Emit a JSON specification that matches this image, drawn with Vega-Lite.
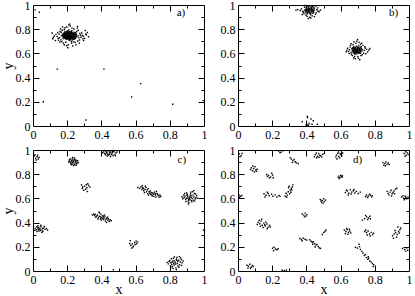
{
"$schema":"https://vega.github.io/schema/vega-lite/v6.json",
"padding":{"left":0,"top":-2,"right":0,"bottom":0},
"config":{"view":{"stroke":"#000","strokeWidth":1},"axis":{"labelFont":"'Liberation Serif', 'Times New Roman', serif","labelFontSize":12,"labelColor":"#000","titleFont":"'Liberation Serif', 'Times New Roman', serif","titleFontSize":14,"titleFontWeight":"normal","titleColor":"#000","tickColor":"#000","tickWidth":1,"grid":false,"domain":false,"format":"~g"}},
"datasets":{
"a":[{"x":0.213,"y":0.745},{"x":0.198,"y":0.752},{"x":0.225,"y":0.731},{"x":0.207,"y":0.768},{"x":0.189,"y":0.739},{"x":0.231,"y":0.758},{"x":0.219,"y":0.722},{"x":0.202,"y":0.728},{"x":0.244,"y":0.741},{"x":0.184,"y":0.761},{"x":0.211,"y":0.779},{"x":0.236,"y":0.717},{"x":0.195,"y":0.716},{"x":0.228,"y":0.772},{"x":0.176,"y":0.748},{"x":0.249,"y":0.756},{"x":0.215,"y":0.709},{"x":0.203,"y":0.785},{"x":0.241,"y":0.729},{"x":0.187,"y":0.725},{"x":0.222,"y":0.763},{"x":0.208,"y":0.736},{"x":0.193,"y":0.771},{"x":0.233,"y":0.748},{"x":0.217,"y":0.754},{"x":0.2,"y":0.744},{"x":0.226,"y":0.741},{"x":0.181,"y":0.733},{"x":0.246,"y":0.768},{"x":0.212,"y":0.727},{"x":0.191,"y":0.757},{"x":0.237,"y":0.737},{"x":0.205,"y":0.761},{"x":0.221,"y":0.715},{"x":0.173,"y":0.759},{"x":0.253,"y":0.744},{"x":0.209,"y":0.793},{"x":0.229,"y":0.724},{"x":0.196,"y":0.732},{"x":0.239,"y":0.776},{"x":0.186,"y":0.768},{"x":0.216,"y":0.738},{"x":0.204,"y":0.752},{"x":0.232,"y":0.735},{"x":0.199,"y":0.764},{"x":0.224,"y":0.751},{"x":0.182,"y":0.744},{"x":0.247,"y":0.733},{"x":0.214,"y":0.766},{"x":0.192,"y":0.722},{"x":0.235,"y":0.762},{"x":0.206,"y":0.719},{"x":0.227,"y":0.787},{"x":0.178,"y":0.738},{"x":0.251,"y":0.761},{"x":0.218,"y":0.731},{"x":0.201,"y":0.776},{"x":0.243,"y":0.749},{"x":0.188,"y":0.753},{"x":0.223,"y":0.727},{"x":0.21,"y":0.758},{"x":0.194,"y":0.741},{"x":0.238,"y":0.744},{"x":0.197,"y":0.781},{"x":0.23,"y":0.711},{"x":0.183,"y":0.727},{"x":0.256,"y":0.737},{"x":0.22,"y":0.771},{"x":0.185,"y":0.777},{"x":0.242,"y":0.718},{"x":0.211,"y":0.711},{"x":0.234,"y":0.754},{"x":0.19,"y":0.746},{"x":0.226,"y":0.767},{"x":0.203,"y":0.738},{"x":0.248,"y":0.725},{"x":0.177,"y":0.754},{"x":0.216,"y":0.782},{"x":0.24,"y":0.767},{"x":0.195,"y":0.726},{"x":0.219,"y":0.743},{"x":0.207,"y":0.748},{"x":0.228,"y":0.757},{"x":0.186,"y":0.734},{"x":0.213,"y":0.729},{"x":0.2,"y":0.759},{"x":0.245,"y":0.762},{"x":0.18,"y":0.766},{"x":0.233,"y":0.727},{"x":0.209,"y":0.774},{"x":0.192,"y":0.735},{"x":0.237,"y":0.749},{"x":0.222,"y":0.737},{"x":0.175,"y":0.742},{"x":0.254,"y":0.752},{"x":0.214,"y":0.717},{"x":0.199,"y":0.748},{"x":0.231,"y":0.766},{"x":0.188,"y":0.761},{"x":0.243,"y":0.738},{"x":0.205,"y":0.731},{"x":0.224,"y":0.779},{"x":0.196,"y":0.769},{"x":0.217,"y":0.761},{"x":0.236,"y":0.723},{"x":0.182,"y":0.752},{"x":0.25,"y":0.771},{"x":0.209,"y":0.741},{"x":0.227,"y":0.733},{"x":0.193,"y":0.778},{"x":0.24,"y":0.757},{"x":0.203,"y":0.721},{"x":0.221,"y":0.749},{"x":0.185,"y":0.742},
{"x":0.152,"y":0.76},{"x":0.268,"y":0.728},{"x":0.163,"y":0.712},{"x":0.274,"y":0.765},{"x":0.141,"y":0.741},{"x":0.288,"y":0.748},{"x":0.171,"y":0.792},{"x":0.262,"y":0.702},{"x":0.158,"y":0.781},{"x":0.281,"y":0.733},{"x":0.198,"y":0.818},{"x":0.226,"y":0.685},{"x":0.147,"y":0.725},{"x":0.295,"y":0.741},{"x":0.169,"y":0.698},{"x":0.265,"y":0.791},{"x":0.206,"y":0.671},{"x":0.218,"y":0.826},{"x":0.134,"y":0.757},{"x":0.302,"y":0.724},{"x":0.178,"y":0.685},{"x":0.259,"y":0.809},{"x":0.187,"y":0.812},{"x":0.247,"y":0.691},{"x":0.124,"y":0.744},{"x":0.312,"y":0.752},{"x":0.161,"y":0.803},{"x":0.272,"y":0.711},{"x":0.239,"y":0.802},{"x":0.192,"y":0.692},{"x":0.155,"y":0.729},{"x":0.285,"y":0.769},{"x":0.115,"y":0.721},{"x":0.325,"y":0.738},{"x":0.173,"y":0.819},{"x":0.251,"y":0.672},{"x":0.144,"y":0.772},{"x":0.296,"y":0.706},{"x":0.209,"y":0.836},{"x":0.232,"y":0.662},{"x":0.131,"y":0.706},{"x":0.318,"y":0.773},{"x":0.183,"y":0.671},{"x":0.261,"y":0.822},{"x":0.166,"y":0.746},{"x":0.277,"y":0.751},{"x":0.228,"y":0.809},{"x":0.196,"y":0.663},{"x":0.112,"y":0.768},{"x":0.306,"y":0.789},{"x":0.238,"y":0.695},{"x":0.157,"y":0.694},{"x":0.292,"y":0.721},{"x":0.203,"y":0.647},{"x":0.256,"y":0.781},{"x":0.165,"y":0.775},{"x":0.119,"y":0.731},{"x":0.214,"y":0.842},{"x":0.183,"y":0.797},{"x":0.271,"y":0.684},{"x":0.149,"y":0.709},{"x":0.309,"y":0.761},{"x":0.225,"y":0.697},{"x":0.176,"y":0.723},{"x":0.264,"y":0.745},
{"x":0.012,"y":0.96},{"x":0.037,"y":0.94},{"x":0.142,"y":0.47},{"x":0.415,"y":0.47},{"x":0.63,"y":0.35},{"x":0.577,"y":0.24},{"x":0.817,"y":0.18},{"x":0.06,"y":0.2},{"x":0.31,"y":0.05},{"x":0.995,"y":0.21}],
"b":[{"x":0.694,"y":0.628},{"x":0.681,"y":0.639},{"x":0.707,"y":0.617},{"x":0.688,"y":0.611},{"x":0.712,"y":0.641},{"x":0.676,"y":0.624},{"x":0.699,"y":0.652},{"x":0.685,"y":0.604},{"x":0.718,"y":0.629},{"x":0.671,"y":0.645},{"x":0.703,"y":0.635},{"x":0.69,"y":0.62},{"x":0.679,"y":0.612},{"x":0.716,"y":0.614},{"x":0.697,"y":0.643},{"x":0.683,"y":0.631},{"x":0.709,"y":0.603},{"x":0.673,"y":0.633},{"x":0.722,"y":0.637},{"x":0.692,"y":0.596},{"x":0.701,"y":0.624},{"x":0.686,"y":0.648},{"x":0.714,"y":0.652},{"x":0.668,"y":0.619},{"x":0.696,"y":0.61},{"x":0.678,"y":0.654},{"x":0.711,"y":0.626},{"x":0.689,"y":0.637},{"x":0.705,"y":0.646},{"x":0.674,"y":0.607},{"x":0.724,"y":0.621},{"x":0.693,"y":0.659},{"x":0.684,"y":0.618},{"x":0.702,"y":0.601},{"x":0.666,"y":0.638},{"x":0.719,"y":0.645},{"x":0.698,"y":0.632},{"x":0.68,"y":0.6},{"x":0.713,"y":0.608},{"x":0.687,"y":0.626},{"x":0.706,"y":0.662},{"x":0.675,"y":0.65},{"x":0.726,"y":0.631},{"x":0.691,"y":0.614},{"x":0.7,"y":0.64},{"x":0.682,"y":0.644},{"x":0.715,"y":0.62},{"x":0.67,"y":0.626},{"x":0.695,"y":0.605},{"x":0.708,"y":0.631},{"x":0.677,"y":0.616},{"x":0.721,"y":0.656},{"x":0.688,"y":0.649},{"x":0.704,"y":0.612},{"x":0.683,"y":0.595},{"x":0.71,"y":0.639},{"x":0.697,"y":0.62},{"x":0.672,"y":0.641},{"x":0.717,"y":0.602},{"x":0.69,"y":0.633},
{"x":0.652,"y":0.631},{"x":0.738,"y":0.624},{"x":0.661,"y":0.606},{"x":0.744,"y":0.644},{"x":0.689,"y":0.683},{"x":0.701,"y":0.574},{"x":0.656,"y":0.652},{"x":0.735,"y":0.601},{"x":0.673,"y":0.671},{"x":0.719,"y":0.582},{"x":0.646,"y":0.617},{"x":0.752,"y":0.633},{"x":0.682,"y":0.575},{"x":0.708,"y":0.691},{"x":0.664,"y":0.591},{"x":0.731,"y":0.666},{"x":0.695,"y":0.701},{"x":0.677,"y":0.562},{"x":0.641,"y":0.642},{"x":0.758,"y":0.612},{"x":0.716,"y":0.675},{"x":0.658,"y":0.668},{"x":0.727,"y":0.589},{"x":0.669,"y":0.582},{"x":0.699,"y":0.715},{"x":0.742,"y":0.655},{"x":0.65,"y":0.6},{"x":0.686,"y":0.556},{"x":0.723,"y":0.684},{"x":0.637,"y":0.627},{"x":0.765,"y":0.628},{"x":0.704,"y":0.56},{"x":0.662,"y":0.681},{"x":0.748,"y":0.597},{"x":0.678,"y":0.694},{"x":0.712,"y":0.548},{"x":0.633,"y":0.613},{"x":0.771,"y":0.641},
{"x":0.421,"y":0.955},{"x":0.408,"y":0.962},{"x":0.433,"y":0.948},{"x":0.415,"y":0.941},{"x":0.429,"y":0.971},{"x":0.402,"y":0.951},{"x":0.437,"y":0.962},{"x":0.412,"y":0.976},{"x":0.426,"y":0.937},{"x":0.398,"y":0.966},{"x":0.441,"y":0.944},{"x":0.418,"y":0.967},{"x":0.405,"y":0.938},{"x":0.431,"y":0.983},{"x":0.395,"y":0.954},{"x":0.445,"y":0.957},{"x":0.423,"y":0.929},{"x":0.41,"y":0.985},{"x":0.436,"y":0.931},{"x":0.4,"y":0.975},{"x":0.427,"y":0.96},{"x":0.414,"y":0.95},{"x":0.439,"y":0.974},{"x":0.393,"y":0.943},{"x":0.419,"y":0.992},{"x":0.447,"y":0.968},{"x":0.406,"y":0.926},{"x":0.432,"y":0.953},{"x":0.416,"y":0.958},{"x":0.424,"y":0.979},{"x":0.403,"y":0.969},{"x":0.442,"y":0.938},{"x":0.411,"y":0.944},{"x":0.435,"y":0.989},{"x":0.397,"y":0.935},{"x":0.428,"y":0.945},{"x":0.42,"y":0.97},{"x":0.409,"y":0.955},{"x":0.438,"y":0.951},{"x":0.401,"y":0.987},{"x":0.425,"y":0.92},{"x":0.413,"y":0.964},{"x":0.444,"y":0.981},{"x":0.391,"y":0.959},{"x":0.43,"y":0.966},{"x":0.417,"y":0.934},
{"x":0.379,"y":0.948},{"x":0.462,"y":0.961},{"x":0.386,"y":0.927},{"x":0.458,"y":0.937},{"x":0.404,"y":0.906},{"x":0.434,"y":0.91},{"x":0.371,"y":0.968},{"x":0.468,"y":0.951},{"x":0.389,"y":0.981},{"x":0.453,"y":0.924},{"x":0.419,"y":0.899},{"x":0.382,"y":0.939},{"x":0.465,"y":0.976},{"x":0.398,"y":0.915},{"x":0.447,"y":0.904},{"x":0.364,"y":0.955},{"x":0.474,"y":0.944},{"x":0.426,"y":0.893},{"x":0.392,"y":0.996},{"x":0.455,"y":0.991},{"x":0.376,"y":0.921},{"x":0.349,"y":0.962},{"x":0.339,"y":0.958},{"x":0.482,"y":0.957},{"x":0.411,"y":0.889},
{"x":0.376,"y":0.036},{"x":0.407,"y":0.069},{"x":0.427,"y":0.058},{"x":0.44,"y":0.044},{"x":0.398,"y":0.008},{"x":0.411,"y":0.003},{"x":0.433,"y":0.014},{"x":0.464,"y":0.014},{"x":0.416,"y":0.02},{"x":0.409,"y":0.01},{"x":0.405,"y":0.078}],
"c":[{"x":0.008,"y":0.952},{"x":0.015,"y":0.931},{"x":0.024,"y":0.944},{"x":0.031,"y":0.925},{"x":0.012,"y":0.962},{"x":0.036,"y":0.938},{"x":0.019,"y":0.918},{"x":0.027,"y":0.957},
{"x":0.238,"y":0.902},{"x":0.226,"y":0.911},{"x":0.247,"y":0.893},{"x":0.219,"y":0.897},{"x":0.252,"y":0.915},{"x":0.233,"y":0.884},{"x":0.241,"y":0.921},{"x":0.215,"y":0.908},{"x":0.258,"y":0.899},{"x":0.229,"y":0.926},{"x":0.244,"y":0.878},{"x":0.222,"y":0.889},{"x":0.255,"y":0.887},{"x":0.235,"y":0.914},{"x":0.212,"y":0.918},{"x":0.249,"y":0.906},{"x":0.231,"y":0.895},{"x":0.261,"y":0.912},{"x":0.224,"y":0.879},{"x":0.243,"y":0.934},{"x":0.237,"y":0.871},{"x":0.218,"y":0.925},{"x":0.253,"y":0.874},{"x":0.228,"y":0.904},{"x":0.246,"y":0.917},{"x":0.232,"y":0.938},{"x":0.209,"y":0.901},{"x":0.264,"y":0.894},
{"x":0.448,"y":0.975},{"x":0.432,"y":0.982},{"x":0.461,"y":0.968},{"x":0.419,"y":0.971},{"x":0.473,"y":0.986},{"x":0.441,"y":0.958},{"x":0.456,"y":0.993},{"x":0.427,"y":0.989},{"x":0.485,"y":0.975},{"x":0.437,"y":0.966},{"x":0.468,"y":0.955},{"x":0.412,"y":0.984},{"x":0.451,"y":0.982},{"x":0.479,"y":0.962},{"x":0.424,"y":0.961},{"x":0.444,"y":0.992},{"x":0.463,"y":0.979},{"x":0.406,"y":0.976},{"x":0.491,"y":0.983},{"x":0.434,"y":0.95},{"x":0.458,"y":0.962},{"x":0.471,"y":0.996},{"x":0.418,"y":0.996},{"x":0.446,"y":0.965},{"x":0.482,"y":0.951},{"x":0.429,"y":0.974},{"x":0.466,"y":0.988},{"x":0.453,"y":0.947},
{"x":0.302,"y":0.701},{"x":0.315,"y":0.688},{"x":0.291,"y":0.694},{"x":0.326,"y":0.706},{"x":0.308,"y":0.676},{"x":0.284,"y":0.712},{"x":0.32,"y":0.721},{"x":0.297,"y":0.668},{"x":0.333,"y":0.693},{"x":0.312,"y":0.713},{"x":0.289,"y":0.683},{"x":0.318,"y":0.657},
{"x":0.402,"y":0.443},{"x":0.388,"y":0.452},{"x":0.415,"y":0.437},{"x":0.376,"y":0.461},{"x":0.427,"y":0.428},{"x":0.395,"y":0.431},{"x":0.409,"y":0.458},{"x":0.364,"y":0.468},{"x":0.438,"y":0.419},{"x":0.383,"y":0.44},{"x":0.42,"y":0.447},{"x":0.371,"y":0.452},{"x":0.446,"y":0.409},{"x":0.398,"y":0.466},{"x":0.432,"y":0.438},{"x":0.355,"y":0.471},{"x":0.413,"y":0.425},{"x":0.391,"y":0.478},{"x":0.451,"y":0.424},{"x":0.379,"y":0.429},{"x":0.424,"y":0.412},{"x":0.405,"y":0.434},{"x":0.367,"y":0.444},{"x":0.441,"y":0.432},{"x":0.394,"y":0.448},{"x":0.418,"y":0.462},{"x":0.359,"y":0.458},{"x":0.457,"y":0.415},{"x":0.386,"y":0.485},{"x":0.43,"y":0.401},{"x":0.347,"y":0.463},{"x":0.411,"y":0.449},{"x":0.436,"y":0.445},{"x":0.399,"y":0.421},
{"x":0.041,"y":0.347},{"x":0.028,"y":0.356},{"x":0.053,"y":0.338},{"x":0.019,"y":0.341},{"x":0.062,"y":0.355},{"x":0.035,"y":0.331},{"x":0.047,"y":0.366},{"x":0.024,"y":0.327},{"x":0.071,"y":0.344},{"x":0.033,"y":0.361},{"x":0.058,"y":0.326},{"x":0.013,"y":0.352},{"x":0.044,"y":0.335},{"x":0.066,"y":0.368},{"x":0.038,"y":0.349},{"x":0.079,"y":0.351},{"x":0.021,"y":0.365},{"x":0.051,"y":0.319},{"x":0.029,"y":0.374},{"x":0.085,"y":0.338},{"x":0.056,"y":0.351},{"x":0.011,"y":0.336},{"x":0.046,"y":0.378},{"x":0.031,"y":0.343},
{"x":0.581,"y":0.224},{"x":0.572,"y":0.213},{"x":0.594,"y":0.236},{"x":0.565,"y":0.228},{"x":0.603,"y":0.247},{"x":0.588,"y":0.205},{"x":0.577,"y":0.189},{"x":0.611,"y":0.239},{"x":0.569,"y":0.251},{"x":0.597,"y":0.219},{"x":0.584,"y":0.197},{"x":0.606,"y":0.226},
{"x":0.655,"y":0.676},{"x":0.642,"y":0.688},{"x":0.668,"y":0.669},{"x":0.631,"y":0.695},{"x":0.679,"y":0.655},{"x":0.648,"y":0.663},{"x":0.661,"y":0.691},{"x":0.624,"y":0.683},{"x":0.692,"y":0.648},{"x":0.671,"y":0.639},{"x":0.704,"y":0.636},{"x":0.716,"y":0.629},{"x":0.698,"y":0.621},{"x":0.725,"y":0.641},{"x":0.711,"y":0.652},{"x":0.689,"y":0.633},{"x":0.733,"y":0.622},{"x":0.707,"y":0.617},{"x":0.742,"y":0.628},{"x":0.637,"y":0.674},{"x":0.657,"y":0.701},{"x":0.674,"y":0.681},{"x":0.686,"y":0.661},{"x":0.719,"y":0.612},{"x":0.7,"y":0.645},{"x":0.747,"y":0.616},{"x":0.664,"y":0.654},{"x":0.639,"y":0.705},{"x":0.683,"y":0.642},{"x":0.729,"y":0.634},{"x":0.613,"y":0.69},{"x":0.652,"y":0.648},{"x":0.694,"y":0.628},{"x":0.737,"y":0.611},{"x":0.722,"y":0.658},{"x":0.676,"y":0.627},{"x":0.645,"y":0.681},{"x":0.714,"y":0.638},
{"x":0.918,"y":0.606},{"x":0.905,"y":0.615},{"x":0.931,"y":0.598},{"x":0.897,"y":0.602},{"x":0.924,"y":0.624},{"x":0.911,"y":0.589},{"x":0.941,"y":0.611},{"x":0.889,"y":0.619},{"x":0.927,"y":0.581},{"x":0.902,"y":0.632},{"x":0.936,"y":0.627},{"x":0.914,"y":0.597},{"x":0.948,"y":0.595},{"x":0.893,"y":0.592},{"x":0.921,"y":0.638},{"x":0.908,"y":0.578},{"x":0.944,"y":0.641},{"x":0.884,"y":0.608},{"x":0.929,"y":0.571},{"x":0.899,"y":0.644},{"x":0.953,"y":0.608},{"x":0.916,"y":0.619},{"x":0.906,"y":0.601},{"x":0.938,"y":0.584},{"x":0.882,"y":0.628},{"x":0.923,"y":0.652},{"x":0.912,"y":0.565},{"x":0.957,"y":0.623},{"x":0.894,"y":0.574},{"x":0.933,"y":0.655},{"x":0.876,"y":0.597},{"x":0.945,"y":0.577},{"x":0.919,"y":0.588},{"x":0.901,"y":0.625},{"x":0.927,"y":0.61},{"x":0.962,"y":0.601},{"x":0.887,"y":0.641},{"x":0.94,"y":0.664},{"x":0.909,"y":0.553},{"x":0.872,"y":0.614},{"x":0.951,"y":0.636},
{"x":0.831,"y":0.071},{"x":0.818,"y":0.083},{"x":0.844,"y":0.062},{"x":0.806,"y":0.068},{"x":0.852,"y":0.089},{"x":0.825,"y":0.049},{"x":0.839,"y":0.097},{"x":0.812,"y":0.054},{"x":0.861,"y":0.074},{"x":0.821,"y":0.104},{"x":0.848,"y":0.041},{"x":0.799,"y":0.086},{"x":0.834,"y":0.058},{"x":0.867,"y":0.095},{"x":0.815,"y":0.036},{"x":0.842,"y":0.112},{"x":0.828,"y":0.084},{"x":0.857,"y":0.052},{"x":0.803,"y":0.043},{"x":0.836,"y":0.026},{"x":0.872,"y":0.067},{"x":0.809,"y":0.101},{"x":0.846,"y":0.079},{"x":0.819,"y":0.021},{"x":0.863,"y":0.108},{"x":0.791,"y":0.059},{"x":0.827,"y":0.117},{"x":0.853,"y":0.031},{"x":0.813,"y":0.075},{"x":0.878,"y":0.083},{"x":0.838,"y":0.012},{"x":0.796,"y":0.078},{"x":0.869,"y":0.046},{"x":0.823,"y":0.064},{"x":0.856,"y":0.119},{"x":0.806,"y":0.028},{"x":0.841,"y":0.088},{"x":0.784,"y":0.071},
{"x":0.997,"y":0.338},{"x":0.47,"y":0.01}],
"d":[{"x":0.008,"y":0.967},{"x":0.019,"y":0.955},{"x":0.012,"y":0.944},{"x":0.024,"y":0.972},
{"x":0.238,"y":0.991},{"x":0.251,"y":0.982},{"x":0.263,"y":0.994},{"x":0.245,"y":0.976},
{"x":0.312,"y":0.925},{"x":0.321,"y":0.912},{"x":0.334,"y":0.903},{"x":0.305,"y":0.937},{"x":0.328,"y":0.921},{"x":0.341,"y":0.894},{"x":0.318,"y":0.898},{"x":0.352,"y":0.889},
{"x":0.452,"y":0.962},{"x":0.465,"y":0.948},{"x":0.478,"y":0.957},{"x":0.489,"y":0.943},{"x":0.471,"y":0.971},{"x":0.461,"y":0.936},{"x":0.495,"y":0.964},{"x":0.483,"y":0.952},{"x":0.447,"y":0.944},{"x":0.505,"y":0.971},{"x":0.474,"y":0.939},{"x":0.458,"y":0.975},
{"x":0.576,"y":0.958},{"x":0.589,"y":0.946},{"x":0.601,"y":0.962},{"x":0.583,"y":0.972},{"x":0.594,"y":0.934},{"x":0.572,"y":0.941},{"x":0.607,"y":0.951},{"x":0.588,"y":0.983},{"x":0.612,"y":0.975},{"x":0.579,"y":0.926},{"x":0.598,"y":0.969},
{"x":0.078,"y":0.853},{"x":0.091,"y":0.846},{"x":0.104,"y":0.835},{"x":0.085,"y":0.828},{"x":0.099,"y":0.862},{"x":0.112,"y":0.841},{"x":0.073,"y":0.839},{"x":0.096,"y":0.819},{"x":0.108,"y":0.824},{"x":0.087,"y":0.868},
{"x":0.168,"y":0.798},{"x":0.179,"y":0.789},{"x":0.191,"y":0.776},{"x":0.202,"y":0.792},{"x":0.184,"y":0.769},{"x":0.197,"y":0.808},{"x":0.172,"y":0.781},{"x":0.206,"y":0.771},
{"x":0.589,"y":0.784},{"x":0.596,"y":0.772},{"x":0.604,"y":0.781},{"x":0.592,"y":0.765},{"x":0.609,"y":0.774},{"x":0.601,"y":0.791},{"x":0.586,"y":0.776},{"x":0.611,"y":0.786},
{"x":0.848,"y":0.896},{"x":0.859,"y":0.889},{"x":0.871,"y":0.881},{"x":0.865,"y":0.902},{"x":0.878,"y":0.893},{"x":0.853,"y":0.874},{"x":0.884,"y":0.879},{"x":0.862,"y":0.868},
{"x":0.972,"y":0.971},{"x":0.984,"y":0.958},{"x":0.991,"y":0.976},{"x":0.977,"y":0.949},{"x":0.995,"y":0.962},{"x":0.981,"y":0.985},
{"x":0.152,"y":0.638},{"x":0.164,"y":0.626},{"x":0.171,"y":0.651},{"x":0.183,"y":0.622},{"x":0.196,"y":0.635},{"x":0.204,"y":0.618},{"x":0.218,"y":0.629},{"x":0.227,"y":0.612},{"x":0.239,"y":0.624},{"x":0.158,"y":0.612},{"x":0.177,"y":0.641},{"x":0.246,"y":0.617},
{"x":0.281,"y":0.642},{"x":0.294,"y":0.655},{"x":0.306,"y":0.668},{"x":0.288,"y":0.627},{"x":0.312,"y":0.683},{"x":0.299,"y":0.701},{"x":0.318,"y":0.695},{"x":0.276,"y":0.618},{"x":0.302,"y":0.639},{"x":0.321,"y":0.712},{"x":0.309,"y":0.651},{"x":0.285,"y":0.609},{"x":0.296,"y":0.688},{"x":0.314,"y":0.672},
{"x":0.006,"y":0.628},{"x":0.014,"y":0.617},{"x":0.022,"y":0.624},{"x":0.009,"y":0.609},
{"x":0.481,"y":0.591},{"x":0.493,"y":0.583},{"x":0.505,"y":0.574},{"x":0.489,"y":0.566},{"x":0.501,"y":0.597},{"x":0.512,"y":0.586},{"x":0.486,"y":0.579},{"x":0.498,"y":0.561},
{"x":0.628,"y":0.648},{"x":0.639,"y":0.661},{"x":0.648,"y":0.642},{"x":0.657,"y":0.671},{"x":0.665,"y":0.652},{"x":0.674,"y":0.663},{"x":0.683,"y":0.645},{"x":0.692,"y":0.658},{"x":0.703,"y":0.641},{"x":0.645,"y":0.628},{"x":0.661,"y":0.637},{"x":0.679,"y":0.674},{"x":0.715,"y":0.652},{"x":0.634,"y":0.669},
{"x":0.751,"y":0.628},{"x":0.762,"y":0.619},{"x":0.774,"y":0.627},{"x":0.781,"y":0.612},{"x":0.758,"y":0.607},{"x":0.769,"y":0.634},{"x":0.785,"y":0.622},{"x":0.746,"y":0.615},
{"x":0.878,"y":0.641},{"x":0.889,"y":0.652},{"x":0.901,"y":0.638},{"x":0.912,"y":0.661},{"x":0.895,"y":0.667},{"x":0.907,"y":0.649},{"x":0.921,"y":0.676},{"x":0.884,"y":0.627},{"x":0.916,"y":0.639},{"x":0.929,"y":0.684},{"x":0.898,"y":0.619},{"x":0.872,"y":0.658},
{"x":0.958,"y":0.612},{"x":0.969,"y":0.601},{"x":0.978,"y":0.618},{"x":0.987,"y":0.596},{"x":0.994,"y":0.611},{"x":0.965,"y":0.623},{"x":0.982,"y":0.607},{"x":0.973,"y":0.589},
{"x":0.118,"y":0.402},{"x":0.127,"y":0.391},{"x":0.135,"y":0.412},{"x":0.142,"y":0.378},{"x":0.151,"y":0.396},{"x":0.159,"y":0.372},{"x":0.168,"y":0.389},{"x":0.176,"y":0.361},{"x":0.184,"y":0.377},{"x":0.131,"y":0.369},{"x":0.124,"y":0.418},{"x":0.147,"y":0.359},{"x":0.163,"y":0.404},{"x":0.138,"y":0.428},{"x":0.171,"y":0.349},{"x":0.156,"y":0.383},{"x":0.189,"y":0.365},{"x":0.113,"y":0.385},
{"x":0.376,"y":0.471},{"x":0.385,"y":0.462},{"x":0.393,"y":0.478},{"x":0.398,"y":0.455},{"x":0.389,"y":0.447},{"x":0.404,"y":0.466},
{"x":0.728,"y":0.421},{"x":0.741,"y":0.433},{"x":0.752,"y":0.448},{"x":0.763,"y":0.439},{"x":0.771,"y":0.452},{"x":0.746,"y":0.459},{"x":0.758,"y":0.426},{"x":0.774,"y":0.432},
{"x":0.622,"y":0.338},{"x":0.631,"y":0.327},{"x":0.639,"y":0.342},{"x":0.646,"y":0.319},{"x":0.654,"y":0.331},{"x":0.628,"y":0.309},{"x":0.643,"y":0.304},{"x":0.659,"y":0.315},{"x":0.635,"y":0.351},{"x":0.651,"y":0.346},
{"x":0.741,"y":0.327},{"x":0.752,"y":0.318},{"x":0.761,"y":0.331},{"x":0.769,"y":0.306},{"x":0.778,"y":0.319},{"x":0.787,"y":0.301},{"x":0.756,"y":0.297},{"x":0.773,"y":0.289},{"x":0.792,"y":0.312},{"x":0.747,"y":0.339},
{"x":0.904,"y":0.291},{"x":0.913,"y":0.306},{"x":0.922,"y":0.318},{"x":0.931,"y":0.302},{"x":0.939,"y":0.327},{"x":0.947,"y":0.341},{"x":0.927,"y":0.279},{"x":0.918,"y":0.335},{"x":0.952,"y":0.356},{"x":0.935,"y":0.364},{"x":0.909,"y":0.271},{"x":0.943,"y":0.314},
{"x":0.362,"y":0.268},{"x":0.371,"y":0.259},{"x":0.381,"y":0.271},{"x":0.392,"y":0.262},{"x":0.401,"y":0.255},{"x":0.376,"y":0.249},
{"x":0.419,"y":0.258},{"x":0.427,"y":0.246},{"x":0.434,"y":0.237},{"x":0.441,"y":0.241},{"x":0.448,"y":0.226},{"x":0.455,"y":0.214},{"x":0.462,"y":0.219},{"x":0.469,"y":0.203},{"x":0.476,"y":0.191},{"x":0.451,"y":0.198},{"x":0.437,"y":0.221},{"x":0.482,"y":0.187},
{"x":0.493,"y":0.301},{"x":0.501,"y":0.318},{"x":0.509,"y":0.327},{"x":0.514,"y":0.339},
{"x":0.202,"y":0.188},{"x":0.211,"y":0.196},{"x":0.219,"y":0.182},{"x":0.227,"y":0.176},{"x":0.208,"y":0.169},{"x":0.234,"y":0.184},
{"x":0.687,"y":0.195},{"x":0.699,"y":0.189},{"x":0.711,"y":0.201},{"x":0.716,"y":0.178},{"x":0.708,"y":0.221},{"x":0.724,"y":0.162},{"x":0.731,"y":0.149},{"x":0.739,"y":0.128},{"x":0.745,"y":0.136},{"x":0.752,"y":0.111},{"x":0.759,"y":0.096},{"x":0.764,"y":0.104},{"x":0.771,"y":0.082},{"x":0.778,"y":0.073},{"x":0.786,"y":0.061},{"x":0.794,"y":0.052},{"x":0.762,"y":0.118},{"x":0.791,"y":0.037},
{"x":0.962,"y":0.186},{"x":0.974,"y":0.178},{"x":0.986,"y":0.191},{"x":0.993,"y":0.172},{"x":0.981,"y":0.164},
{"x":0.052,"y":0.048},{"x":0.061,"y":0.039},{"x":0.069,"y":0.056},{"x":0.077,"y":0.031},{"x":0.084,"y":0.046},{"x":0.058,"y":0.024},{"x":0.073,"y":0.021},{"x":0.089,"y":0.037},
{"x":0.258,"y":0.006},{"x":0.271,"y":0.003},{"x":0.283,"y":0.008}]
},
"columns":2,
"spacing":{"row":24,"column":34},
"bounds":"flush",
"concat":[
{"width":171,"height":121,"data":{"name":"a"},
"layer":[
{"mark":{"type":"square","size":2,"color":"#000","opacity":1},"encoding":{"x":{"field":"x","type":"quantitative","scale":{"domain":[0,1],"nice":false,"zero":false},"axis":{"orient":"bottom","title":null,"ticks":false,"values":[0,0.2,0.4,0.6,0.8,1],"labelFlush":false,"labelOverlap":false,"labelPadding":3}},"y":{"field":"y","type":"quantitative","scale":{"domain":[0,1],"nice":false,"zero":false},"axis":{"orient":"left","title":"y","ticks":false,"values":[0,0.2,0.4,0.6,0.8,1],"labelFlush":false,"labelOverlap":false,"labelPadding":3,"titlePadding":0}}}},
{"mark":{"type":"point","opacity":0},"encoding":{"x":{"field":"x","type":"quantitative","scale":{"domain":[0,1],"nice":false,"zero":false},"axis":{"orient":"bottom","labels":false,"title":null,"values":[0.2,0.4,0.6,0.8],"tickSize":-6}},"y":{"field":"y","type":"quantitative","scale":{"domain":[0,1],"nice":false,"zero":false},"axis":{"orient":"left","labels":false,"title":null,"values":[0.2,0.4,0.6,0.8],"tickSize":-6}}}},
{"mark":{"type":"point","opacity":0},"encoding":{"x":{"field":"x","type":"quantitative","scale":{"domain":[0,1],"nice":false,"zero":false},"axis":{"orient":"top","labels":false,"title":null,"values":[0.2,0.4,0.6,0.8],"tickSize":-6}},"y":{"field":"y","type":"quantitative","scale":{"domain":[0,1],"nice":false,"zero":false},"axis":{"orient":"right","labels":false,"title":null,"values":[0.2,0.4,0.6,0.8],"tickSize":-6}}}},
{"mark":{"type":"point","opacity":0},"encoding":{"x":{"field":"x","type":"quantitative","scale":{"domain":[0,1],"nice":false,"zero":false},"axis":{"orient":"bottom","labels":false,"title":null,"values":[0.1,0.3,0.5,0.7,0.9],"tickSize":-3}},"y":{"field":"y","type":"quantitative","scale":{"domain":[0,1],"nice":false,"zero":false},"axis":{"orient":"left","labels":false,"title":null,"values":[0.1,0.3,0.5,0.7,0.9],"tickSize":-3}}}},
{"mark":{"type":"point","opacity":0},"encoding":{"x":{"field":"x","type":"quantitative","scale":{"domain":[0,1],"nice":false,"zero":false},"axis":{"orient":"top","labels":false,"title":null,"values":[0.1,0.3,0.5,0.7,0.9],"tickSize":-3}},"y":{"field":"y","type":"quantitative","scale":{"domain":[0,1],"nice":false,"zero":false},"axis":{"orient":"right","labels":false,"title":null,"values":[0.1,0.3,0.5,0.7,0.9],"tickSize":-3}}}},
{"data":{"values":[{}]},"mark":{"type":"text","text":"a)","font":"'Liberation Serif', serif","fontSize":11,"color":"#000"},"encoding":{"x":{"datum":0.865,"type":"quantitative","scale":{"domain":[0,1],"nice":false,"zero":false},"axis":null},"y":{"datum":0.93,"type":"quantitative","scale":{"domain":[0,1],"nice":false,"zero":false},"axis":null}}}
],
"resolve":{"axis":{"x":"independent","y":"independent"}}},
{"width":171,"height":121,"data":{"name":"b"},
"layer":[
{"mark":{"type":"square","size":2,"color":"#000","opacity":1},"encoding":{"x":{"field":"x","type":"quantitative","scale":{"domain":[0,1],"nice":false,"zero":false},"axis":{"orient":"bottom","title":null,"ticks":false,"values":[0,0.2,0.4,0.6,0.8,1],"labelFlush":false,"labelOverlap":false,"labelPadding":3}},"y":{"field":"y","type":"quantitative","scale":{"domain":[0,1],"nice":false,"zero":false},"axis":{"orient":"left","title":null,"ticks":false,"values":[0,0.2,0.4,0.6,0.8,1],"labelFlush":false,"labelOverlap":false,"labelPadding":3}}}},
{"mark":{"type":"point","opacity":0},"encoding":{"x":{"field":"x","type":"quantitative","scale":{"domain":[0,1],"nice":false,"zero":false},"axis":{"orient":"bottom","labels":false,"title":null,"values":[0.2,0.4,0.6,0.8],"tickSize":-6}},"y":{"field":"y","type":"quantitative","scale":{"domain":[0,1],"nice":false,"zero":false},"axis":{"orient":"left","labels":false,"title":null,"values":[0.2,0.4,0.6,0.8],"tickSize":-6}}}},
{"mark":{"type":"point","opacity":0},"encoding":{"x":{"field":"x","type":"quantitative","scale":{"domain":[0,1],"nice":false,"zero":false},"axis":{"orient":"top","labels":false,"title":null,"values":[0.2,0.4,0.6,0.8],"tickSize":-6}},"y":{"field":"y","type":"quantitative","scale":{"domain":[0,1],"nice":false,"zero":false},"axis":{"orient":"right","labels":false,"title":null,"values":[0.2,0.4,0.6,0.8],"tickSize":-6}}}},
{"mark":{"type":"point","opacity":0},"encoding":{"x":{"field":"x","type":"quantitative","scale":{"domain":[0,1],"nice":false,"zero":false},"axis":{"orient":"bottom","labels":false,"title":null,"values":[0.1,0.3,0.5,0.7,0.9],"tickSize":-3}},"y":{"field":"y","type":"quantitative","scale":{"domain":[0,1],"nice":false,"zero":false},"axis":{"orient":"left","labels":false,"title":null,"values":[0.1,0.3,0.5,0.7,0.9],"tickSize":-3}}}},
{"mark":{"type":"point","opacity":0},"encoding":{"x":{"field":"x","type":"quantitative","scale":{"domain":[0,1],"nice":false,"zero":false},"axis":{"orient":"top","labels":false,"title":null,"values":[0.1,0.3,0.5,0.7,0.9],"tickSize":-3}},"y":{"field":"y","type":"quantitative","scale":{"domain":[0,1],"nice":false,"zero":false},"axis":{"orient":"right","labels":false,"title":null,"values":[0.1,0.3,0.5,0.7,0.9],"tickSize":-3}}}},
{"data":{"values":[{}]},"mark":{"type":"text","text":"b)","font":"'Liberation Serif', serif","fontSize":11,"color":"#000"},"encoding":{"x":{"datum":0.91,"type":"quantitative","scale":{"domain":[0,1],"nice":false,"zero":false},"axis":null},"y":{"datum":0.93,"type":"quantitative","scale":{"domain":[0,1],"nice":false,"zero":false},"axis":null}}}
],
"resolve":{"axis":{"x":"independent","y":"independent"}}},
{"width":171,"height":121,"data":{"name":"c"},
"layer":[
{"mark":{"type":"square","size":2,"color":"#000","opacity":1},"encoding":{"x":{"field":"x","type":"quantitative","scale":{"domain":[0,1],"nice":false,"zero":false},"axis":{"orient":"bottom","title":"x","ticks":false,"values":[0,0.2,0.4,0.6,0.8,1],"labelFlush":false,"labelOverlap":false,"labelPadding":3,"titlePadding":-3}},"y":{"field":"y","type":"quantitative","scale":{"domain":[0,1],"nice":false,"zero":false},"axis":{"orient":"left","title":"y","ticks":false,"values":[0,0.2,0.4,0.6,0.8,1],"labelFlush":false,"labelOverlap":false,"labelPadding":3,"titlePadding":0}}}},
{"mark":{"type":"point","opacity":0},"encoding":{"x":{"field":"x","type":"quantitative","scale":{"domain":[0,1],"nice":false,"zero":false},"axis":{"orient":"bottom","labels":false,"title":null,"values":[0.2,0.4,0.6,0.8],"tickSize":-6}},"y":{"field":"y","type":"quantitative","scale":{"domain":[0,1],"nice":false,"zero":false},"axis":{"orient":"left","labels":false,"title":null,"values":[0.2,0.4,0.6,0.8],"tickSize":-6}}}},
{"mark":{"type":"point","opacity":0},"encoding":{"x":{"field":"x","type":"quantitative","scale":{"domain":[0,1],"nice":false,"zero":false},"axis":{"orient":"top","labels":false,"title":null,"values":[0.2,0.4,0.6,0.8],"tickSize":-6}},"y":{"field":"y","type":"quantitative","scale":{"domain":[0,1],"nice":false,"zero":false},"axis":{"orient":"right","labels":false,"title":null,"values":[0.2,0.4,0.6,0.8],"tickSize":-6}}}},
{"mark":{"type":"point","opacity":0},"encoding":{"x":{"field":"x","type":"quantitative","scale":{"domain":[0,1],"nice":false,"zero":false},"axis":{"orient":"bottom","labels":false,"title":null,"values":[0.1,0.3,0.5,0.7,0.9],"tickSize":-3}},"y":{"field":"y","type":"quantitative","scale":{"domain":[0,1],"nice":false,"zero":false},"axis":{"orient":"left","labels":false,"title":null,"values":[0.1,0.3,0.5,0.7,0.9],"tickSize":-3}}}},
{"mark":{"type":"point","opacity":0},"encoding":{"x":{"field":"x","type":"quantitative","scale":{"domain":[0,1],"nice":false,"zero":false},"axis":{"orient":"top","labels":false,"title":null,"values":[0.1,0.3,0.5,0.7,0.9],"tickSize":-3}},"y":{"field":"y","type":"quantitative","scale":{"domain":[0,1],"nice":false,"zero":false},"axis":{"orient":"right","labels":false,"title":null,"values":[0.1,0.3,0.5,0.7,0.9],"tickSize":-3}}}},
{"data":{"values":[{}]},"mark":{"type":"text","text":"c)","font":"'Liberation Serif', serif","fontSize":11,"color":"#000"},"encoding":{"x":{"datum":0.87,"type":"quantitative","scale":{"domain":[0,1],"nice":false,"zero":false},"axis":null},"y":{"datum":0.92,"type":"quantitative","scale":{"domain":[0,1],"nice":false,"zero":false},"axis":null}}}
],
"resolve":{"axis":{"x":"independent","y":"independent"}}},
{"width":171,"height":121,"data":{"name":"d"},
"layer":[
{"mark":{"type":"square","size":2,"color":"#000","opacity":1},"encoding":{"x":{"field":"x","type":"quantitative","scale":{"domain":[0,1],"nice":false,"zero":false},"axis":{"orient":"bottom","title":"x","ticks":false,"values":[0,0.2,0.4,0.6,0.8,1],"labelFlush":false,"labelOverlap":false,"labelPadding":3,"titlePadding":-3}},"y":{"field":"y","type":"quantitative","scale":{"domain":[0,1],"nice":false,"zero":false},"axis":{"orient":"left","title":null,"ticks":false,"values":[0,0.2,0.4,0.6,0.8,1],"labelFlush":false,"labelOverlap":false,"labelPadding":3}}}},
{"mark":{"type":"point","opacity":0},"encoding":{"x":{"field":"x","type":"quantitative","scale":{"domain":[0,1],"nice":false,"zero":false},"axis":{"orient":"bottom","labels":false,"title":null,"values":[0.2,0.4,0.6,0.8],"tickSize":-6}},"y":{"field":"y","type":"quantitative","scale":{"domain":[0,1],"nice":false,"zero":false},"axis":{"orient":"left","labels":false,"title":null,"values":[0.2,0.4,0.6,0.8],"tickSize":-6}}}},
{"mark":{"type":"point","opacity":0},"encoding":{"x":{"field":"x","type":"quantitative","scale":{"domain":[0,1],"nice":false,"zero":false},"axis":{"orient":"top","labels":false,"title":null,"values":[0.2,0.4,0.6,0.8],"tickSize":-6}},"y":{"field":"y","type":"quantitative","scale":{"domain":[0,1],"nice":false,"zero":false},"axis":{"orient":"right","labels":false,"title":null,"values":[0.2,0.4,0.6,0.8],"tickSize":-6}}}},
{"mark":{"type":"point","opacity":0},"encoding":{"x":{"field":"x","type":"quantitative","scale":{"domain":[0,1],"nice":false,"zero":false},"axis":{"orient":"bottom","labels":false,"title":null,"values":[0.1,0.3,0.5,0.7,0.9],"tickSize":-3}},"y":{"field":"y","type":"quantitative","scale":{"domain":[0,1],"nice":false,"zero":false},"axis":{"orient":"left","labels":false,"title":null,"values":[0.1,0.3,0.5,0.7,0.9],"tickSize":-3}}}},
{"mark":{"type":"point","opacity":0},"encoding":{"x":{"field":"x","type":"quantitative","scale":{"domain":[0,1],"nice":false,"zero":false},"axis":{"orient":"top","labels":false,"title":null,"values":[0.1,0.3,0.5,0.7,0.9],"tickSize":-3}},"y":{"field":"y","type":"quantitative","scale":{"domain":[0,1],"nice":false,"zero":false},"axis":{"orient":"right","labels":false,"title":null,"values":[0.1,0.3,0.5,0.7,0.9],"tickSize":-3}}}},
{"data":{"values":[{}]},"mark":{"type":"text","text":"d)","font":"'Liberation Serif', serif","fontSize":11,"color":"#000"},"encoding":{"x":{"datum":0.7,"type":"quantitative","scale":{"domain":[0,1],"nice":false,"zero":false},"axis":null},"y":{"datum":0.92,"type":"quantitative","scale":{"domain":[0,1],"nice":false,"zero":false},"axis":null}}}
],
"resolve":{"axis":{"x":"independent","y":"independent"}}}
]
}
